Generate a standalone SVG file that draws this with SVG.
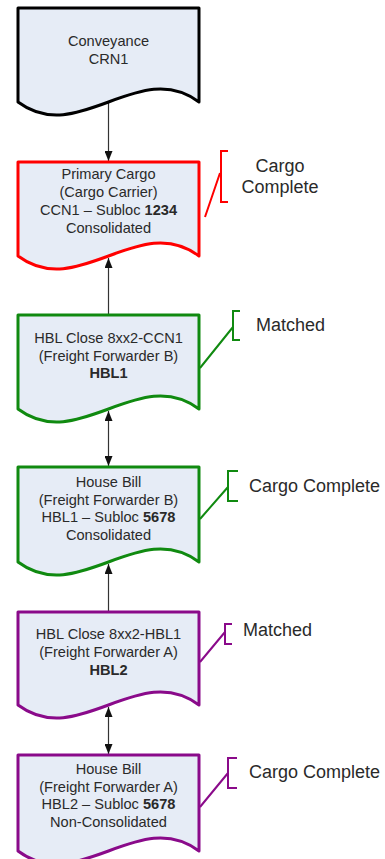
<svg xmlns="http://www.w3.org/2000/svg" width="385" height="859" viewBox="0 0 385 859">
<style>
.node{fill:#e6ecf6;stroke-width:3;stroke-linejoin:round}
.t{font-family:"Liberation Sans",Arial,sans-serif;font-size:14.6px;fill:#2a2a2a;text-anchor:middle}
.a{font-family:"Liberation Sans",Arial,sans-serif;font-size:18px;fill:#2a2a2a}
.b{fill:none;stroke-width:2}
.c{stroke:#333;stroke-width:1.2;fill:none}
.blk{stroke:#000}.red{stroke:#ff0000}.grn{stroke:#108a10}.pur{stroke:#8a0a8a}
</style>
<defs>
<marker id="arr" viewBox="0 0 10 8" refX="10" refY="4" markerWidth="10" markerHeight="8" markerUnits="userSpaceOnUse" orient="auto-start-reverse">
<path d="M0,0 L10,4 L0,8 Z" fill="#111"/>
</marker>
</defs>
<g id="connectors">
<line class="c" x1="108.5" y1="103" x2="108.5" y2="161" marker-end="url(#arr)"/>
<line class="c" x1="108.5" y1="315" x2="108.5" y2="258" marker-end="url(#arr)"/>
<line class="c" x1="108.5" y1="411" x2="108.5" y2="466" marker-start="url(#arr)" marker-end="url(#arr)"/>
<line class="c" x1="108.5" y1="612" x2="108.5" y2="564" marker-end="url(#arr)"/>
<line class="c" x1="108.5" y1="707" x2="108.5" y2="754" marker-start="url(#arr)" marker-end="url(#arr)"/>
</g>
<g id="n1">
<path class="node blk" d="M18,8 L199,8 L199,102 C139,57 78,147 18,102 Z"/>
<text class="t" x="108.5" y="45.5">Conveyance</text>
<text class="t" x="108.5" y="64">CRN1</text>
</g>
<g id="n2">
<path class="node red" d="M18,162 L199,162 L199,256 C139,211 78,301 18,256 Z"/>
<text class="t" x="108.5" y="179">Primary Cargo</text>
<text class="t" x="108.5" y="197">(Cargo Carrier)</text>
<text class="t" x="108.5" y="215">CCN1 – Subloc <tspan font-weight="bold">1234</tspan></text>
<text class="t" x="108.5" y="233">Consolidated</text>
<path class="b red" d="M228,151 L221,151 L221,202 L228,202 M220,173 L205,217"/>
<text class="a" x="280" y="172" text-anchor="middle">Cargo</text>
<text class="a" x="280" y="193" text-anchor="middle">Complete</text>
</g>
<g id="n3">
<path class="node grn" d="M18,315 L199,315 L199,409 C139,364 78,454 18,409 Z"/>
<text class="t" x="108.5" y="343">HBL Close 8xx2-CCN1</text>
<text class="t" x="108.5" y="361">(Freight Forwarder B)</text>
<text class="t" x="108.5" y="378" font-weight="bold">HBL1</text>
<path class="b grn" d="M240,311 L233,311 L233,340 L240,340 M233,327 L200,368"/>
<text class="a" x="256" y="331">Matched</text>
</g>
<g id="n4">
<path class="node grn" d="M18,467 L199,467 L199,562 C139,517 78,607 18,562 Z"/>
<text class="t" x="108.5" y="487">House Bill</text>
<text class="t" x="108.5" y="504.5">(Freight Forwarder B)</text>
<text class="t" x="108.5" y="522">HBL1 – Subloc <tspan font-weight="bold">5678</tspan></text>
<text class="t" x="108.5" y="539.5">Consolidated</text>
<path class="b grn" d="M238,471 L228,471 L228,501 L238,501 M228,487 L200,519"/>
<text class="a" x="249" y="492">Cargo Complete</text>
</g>
<g id="n5">
<path class="node pur" d="M18,612 L199,612 L199,705 C139,660 78,750 18,705 Z"/>
<text class="t" x="108.5" y="639">HBL Close 8xx2-HBL1</text>
<text class="t" x="108.5" y="657">(Freight Forwarder A)</text>
<text class="t" x="108.5" y="674.5" font-weight="bold">HBL2</text>
<path class="b pur" d="M232,624 L225,624 L225,644 L232,644 M225,632 L200,662"/>
<text class="a" x="243" y="636">Matched</text>
</g>
<g id="n6">
<path class="node pur" d="M18,755 L199,755 L199,851 C139,806 78,896 18,851 Z"/>
<text class="t" x="108.5" y="774">House Bill</text>
<text class="t" x="108.5" y="791.5">(Freight Forwarder A)</text>
<text class="t" x="108.5" y="809">HBL2 – Subloc <tspan font-weight="bold">5678</tspan></text>
<text class="t" x="108.5" y="826.5">Non-Consolidated</text>
<path class="b pur" d="M237,758 L228,758 L228,788 L237,788 M228,773 L200,807"/>
<text class="a" x="249" y="778">Cargo Complete</text>
</g>
</svg>
